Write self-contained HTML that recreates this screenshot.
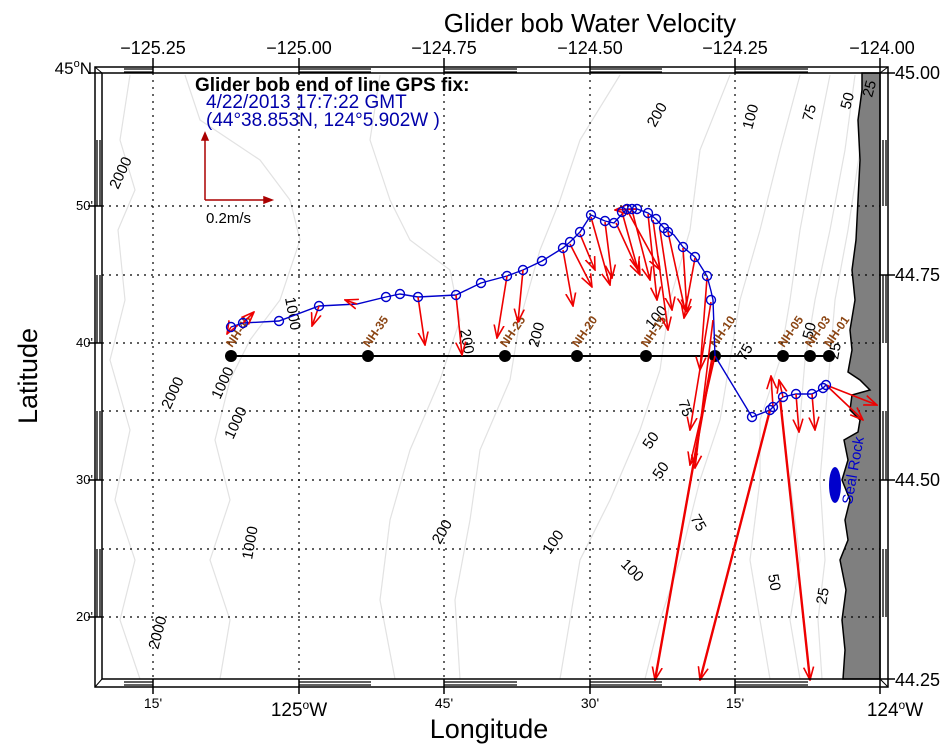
<!DOCTYPE html>
<html><head><meta charset="utf-8"><style>
body{margin:0;background:#fff;}
svg{display:block;font-family:"Liberation Sans",sans-serif;}
</style></head><body>
<svg width="950" height="748" viewBox="0 0 950 748" xmlns="http://www.w3.org/2000/svg">
<defs>
<marker id="ah" markerWidth="14" markerHeight="12" refX="13" refY="6" orient="auto" markerUnits="userSpaceOnUse"><path d="M0,1 L13,6 L0,11" fill="none" stroke="#e00" stroke-width="1.6"/></marker>
</defs>
<rect width="950" height="748" fill="#fff"/>
<text x="590" y="32" font-size="26" text-anchor="middle">Glider bob Water Velocity</text>
<!-- contours -->
<g fill="none" stroke="#e2e2e2" stroke-width="1.2">
<path d="M130,75 L120,140 L135,190 L118,230 L125,300 L110,360 L130,430 L115,500 L135,560 L120,620 L140,679"/>
<path d="M185,75 L200,120 L230,140 L260,160 L290,200 L300,240 L280,300 L250,340 L230,380 L215,440 L230,500 L210,560 L230,620 L220,679"/>
<path d="M380,75 L370,140 L390,200 L410,240 L450,270 L460,320 L440,380 L410,450 L390,520 L380,600 L395,679"/>
<path d="M620,75 L580,140 L560,200 L540,250 L520,320 L510,380 L480,450 L470,520 L455,600 L460,679"/>
<path d="M730,75 L700,150 L690,230 L670,300 L660,370 L640,430 L610,500 L580,560 L560,679"/>
<path d="M800,75 L780,150 L760,230 L740,300 L730,360 L720,420 L700,480 L680,560 L660,620 L645,679"/>
<path d="M830,75 L815,150 L800,230 L790,300 L780,360 L760,420 L760,480 L750,560 L760,620 L770,679"/>
<path d="M855,75 L845,150 L830,230 L815,300 L805,360 L800,420 L790,480 L800,560 L790,620 L800,679"/>
<path d="M868,75 L860,150 L848,230 L835,300 L830,360 L825,420 L820,480 L825,560 L818,620 L822,679"/>
</g>
<!-- land -->
<path d="M862,73 L880,73 L880,679 L843,679 L845,650 L842,620 L846,590 L840,560 L848,540 L845,520 L850,500 L842,480 L848,460 L844,440 L858,432 L860,420 L850,410 L852,395 L870,390 L860,380 L848,372 L852,350 L850,330 L855,300 L852,270 L856,240 L858,200 L860,160 L858,120 L862,90 Z" fill="#7f7f7f" stroke="#000" stroke-width="1.5"/>
<!-- grid -->
<g stroke="#000" stroke-width="1.2" stroke-dasharray="2,5">
<line x1="153" y1="73" x2="153" y2="679"/><line x1="299" y1="73" x2="299" y2="679"/><line x1="444" y1="73" x2="444" y2="679"/><line x1="590" y1="73" x2="590" y2="679"/><line x1="735" y1="73" x2="735" y2="679"/>
<line x1="102" y1="206" x2="880" y2="206"/><line x1="102" y1="275" x2="880" y2="275"/><line x1="102" y1="343" x2="880" y2="343"/><line x1="102" y1="411" x2="880" y2="411"/><line x1="102" y1="480" x2="880" y2="480"/><line x1="102" y1="549" x2="880" y2="549"/><line x1="102" y1="617" x2="880" y2="617"/>
</g>
<!-- contour labels -->
<g font-size="15" fill="#000">
<text transform="translate(118,190) rotate(-65)">2000</text>
<text transform="translate(170,410) rotate(-65)">2000</text>
<text transform="translate(220,400) rotate(-65)">1000</text>
<text transform="translate(233,440) rotate(-65)">1000</text>
<text transform="translate(252,560) rotate(-80)">1000</text>
<text transform="translate(158,650) rotate(-75)">2000</text>
<text transform="translate(285,298) rotate(80)">1000</text>
<text transform="translate(460,330) rotate(80)">200</text>
<text transform="translate(538,348) rotate(-75)">200</text>
<text transform="translate(440,545) rotate(-60)">200</text>
<text transform="translate(655,128) rotate(-60)">200</text>
<text transform="translate(550,555) rotate(-55)">100</text>
<text transform="translate(620,565) rotate(45)">100</text>
<text transform="translate(652,330) rotate(-50)">100</text>
<text transform="translate(752,130) rotate(-75)">100</text>
<text transform="translate(812,122) rotate(-75)">75</text>
<text transform="translate(690,518) rotate(60)">75</text>
<text transform="translate(678,402) rotate(70)">75</text>
<text transform="translate(745,362) rotate(-60)">75</text>
<text transform="translate(650,450) rotate(-55)">50</text>
<text transform="translate(660,480) rotate(-55)">50</text>
<text transform="translate(850,110) rotate(-75)">50</text>
<text transform="translate(768,575) rotate(80)">50</text>
<text transform="translate(812,340) rotate(-75)">50</text>
<text transform="translate(872,98) rotate(-75)">25</text>
<text transform="translate(826,605) rotate(-80)">25</text>
<text transform="translate(838,360) rotate(-80)">25</text>
</g>
<!-- NH line -->
<line x1="231" y1="356" x2="829" y2="356" stroke="#000" stroke-width="2"/>
<g fill="#000"><circle cx="231" cy="356" r="6"/><circle cx="368" cy="356" r="6"/><circle cx="505" cy="356" r="6"/><circle cx="577" cy="356" r="6"/><circle cx="646" cy="356" r="6"/><circle cx="715" cy="356" r="6"/><circle cx="783" cy="356" r="6"/><circle cx="810" cy="356" r="6"/><circle cx="829" cy="356" r="6"/></g>
<g font-size="12" font-weight="bold" fill="#8b4513">
<text transform="translate(232,348) rotate(-55)">NH-45</text>
<text transform="translate(369,348) rotate(-55)">NH-35</text>
<text transform="translate(506,348) rotate(-55)">NH-25</text>
<text transform="translate(578,348) rotate(-55)">NH-20</text>
<text transform="translate(647,348) rotate(-55)">NH-15</text>
<text transform="translate(716,348) rotate(-55)">NH-10</text>
<text transform="translate(784,348) rotate(-55)">NH-05</text>
<text transform="translate(811,348) rotate(-55)">NH-03</text>
<text transform="translate(830,348) rotate(-55)">NH-01</text>
</g>
<!-- glider track -->
<polyline fill="none" stroke="#00c" stroke-width="1.4" points="231,327 243,323 279,321 319,306 357,304 386,297 400,294 418,297 456,295 481,283 507,276 523,270 542,261 563,248 570,242 580,232 591,215 605,221 614,223 622,214 627,209 632,209 637,209 648,213 656,219 664,228 674,235 683,247 695,257 707,276 711,291 713,300 715,356 752,417 770,410 773,407 783,397 796,394 812,394 823,388 826,385"/>
<g stroke="#e00" stroke-width="1.6" marker-end="url(#ah)">
<line x1="231" y1="327" x2="227" y2="334"/><line x1="243" y1="323" x2="254" y2="312"/><line x1="319" y1="306" x2="312" y2="326"/><line x1="357" y1="304" x2="345" y2="300"/>
<line x1="418" y1="297" x2="425" y2="345"/><line x1="456" y1="295" x2="462" y2="355"/><line x1="507" y1="276" x2="497" y2="338"/><line x1="523" y1="270" x2="518" y2="322"/>
<line x1="563" y1="250" x2="573" y2="306"/><line x1="570" y1="244" x2="592" y2="287"/><line x1="580" y1="234" x2="595" y2="270"/><line x1="591" y1="217" x2="610" y2="285"/><line x1="605" y1="222" x2="612" y2="278"/><line x1="616" y1="223" x2="640" y2="275"/><line x1="622" y1="212" x2="638" y2="270"/><line x1="627" y1="210" x2="660" y2="270"/><line x1="632" y1="210" x2="650" y2="280"/><line x1="648" y1="214" x2="657" y2="300"/><line x1="653" y1="220" x2="668" y2="330"/><line x1="660" y1="230" x2="672" y2="310"/><line x1="668" y1="232" x2="685" y2="310"/><line x1="683" y1="248" x2="687" y2="312"/><line x1="695" y1="258" x2="684" y2="318"/><line x1="637" y1="209" x2="615" y2="210"/>
<line x1="707" y1="278" x2="700" y2="370"/><line x1="711" y1="302" x2="690" y2="430"/><line x1="713" y1="320" x2="695" y2="468"/><line x1="715" y1="356" x2="690" y2="465"/><line x1="773" y1="407" x2="771" y2="376"/><line x1="783" y1="397" x2="779" y2="380"/><line x1="796" y1="394" x2="799" y2="432"/><line x1="812" y1="394" x2="815" y2="430"/><line x1="826" y1="385" x2="877" y2="405"/><line x1="826" y1="385" x2="863" y2="420"/>
</g>
<g stroke="#e00" stroke-width="2.4" marker-end="url(#ah)">
<line x1="712" y1="360" x2="655" y2="680"/><line x1="770" y1="410" x2="700" y2="680"/><line x1="780" y1="398" x2="810" y2="680"/>
</g>
<g fill="none" stroke="#00c" stroke-width="1.4">
<circle cx="231" cy="327" r="4.5"/><circle cx="243" cy="323" r="4.5"/><circle cx="279" cy="321" r="4.5"/><circle cx="319" cy="306" r="4.5"/><circle cx="386" cy="297" r="4.5"/><circle cx="400" cy="294" r="4.5"/><circle cx="418" cy="297" r="4.5"/><circle cx="456" cy="295" r="4.5"/><circle cx="481" cy="283" r="4.5"/><circle cx="507" cy="276" r="4.5"/><circle cx="523" cy="270" r="4.5"/><circle cx="542" cy="261" r="4.5"/><circle cx="563" cy="248" r="4.5"/><circle cx="570" cy="242" r="4.5"/><circle cx="580" cy="232" r="4.5"/><circle cx="591" cy="215" r="4.5"/><circle cx="605" cy="221" r="4.5"/><circle cx="614" cy="223" r="4.5"/><circle cx="622" cy="212" r="4.5"/><circle cx="627" cy="209" r="4.5"/><circle cx="632" cy="209" r="4.5"/><circle cx="637" cy="209" r="4.5"/><circle cx="648" cy="213" r="4.5"/><circle cx="656" cy="219" r="4.5"/><circle cx="664" cy="228" r="4.5"/><circle cx="668" cy="232" r="4.5"/><circle cx="683" cy="247" r="4.5"/><circle cx="695" cy="257" r="4.5"/><circle cx="707" cy="276" r="4.5"/><circle cx="711" cy="300" r="4.5"/><circle cx="752" cy="417" r="4.5"/><circle cx="770" cy="410" r="4.5"/><circle cx="773" cy="407" r="4.5"/><circle cx="783" cy="397" r="4.5"/><circle cx="796" cy="394" r="4.5"/><circle cx="812" cy="394" r="4.5"/><circle cx="823" cy="388" r="4.5"/><circle cx="826" cy="385" r="4.5"/>
</g>
<!-- Seal rock -->
<g fill="#00c"><ellipse cx="835" cy="485" rx="6" ry="18"/></g>
<text transform="translate(852,505) rotate(-80)" font-size="15" fill="#00c">Seal Rock</text>
<!-- legend -->
<text x="195" y="91" font-size="19" font-weight="bold">Glider bob end of line GPS fix:</text>
<text x="206" y="108" font-size="19" fill="#00a">4/22/2013 17:7:22 GMT</text>
<text x="206" y="126" font-size="19" fill="#00a">(44°38.853N, 124°5.902W )</text>
<g stroke="#a00" stroke-width="1.5" fill="#a00">
<line x1="205" y1="200" x2="205" y2="135"/><path d="M202,140 L205,133 L208,140Z"/>
<line x1="205" y1="200" x2="270" y2="200"/><path d="M264,197 L272,200 L264,203Z"/>
</g>
<text x="206" y="223" font-size="15">0.2m/s</text>
<!-- frame -->
<rect x="102" y="73" width="778" height="606" fill="none" stroke="#000" stroke-width="1.5"/>
<rect x="95" y="67" width="793" height="620" fill="none" stroke="#000" stroke-width="1.5"/>
<g stroke="#000" stroke-width="1"><line x1="95" y1="67" x2="102" y2="73"/><line x1="888" y1="67" x2="880" y2="73"/><line x1="95" y1="687" x2="102" y2="679"/><line x1="888" y1="687" x2="880" y2="679"/></g>
<g stroke="#000" stroke-width="1.3" fill="none">
<path d="M124,69H153M124,72H153M299,69H371M299,72H371M444,69H517M444,72H517M590,69H662M590,72H662M735,69H808M735,72H808"/>
<path d="M124,682H153M124,685H153M299,682H371M299,685H371M444,682H517M444,685H517M590,682H662M590,685H662M735,682H808M735,685H808"/>
<path d="M97,140V206M100,140V206M97,275V343M100,275V343M97,411V480M100,411V480M97,549V617M100,549V617"/>
<path d="M883,140V206M886,140V206M883,275V343M886,275V343M883,411V480M886,411V480M883,549V617M886,549V617"/>
</g>
<g stroke="#000" stroke-width="1.5">
<line x1="153" y1="58" x2="153" y2="73"/><line x1="299" y1="58" x2="299" y2="73"/><line x1="444" y1="58" x2="444" y2="73"/><line x1="590" y1="58" x2="590" y2="73"/><line x1="735" y1="58" x2="735" y2="73"/><line x1="880" y1="58" x2="880" y2="73"/>
<line x1="153" y1="679" x2="153" y2="694"/><line x1="299" y1="679" x2="299" y2="694"/><line x1="444" y1="679" x2="444" y2="694"/><line x1="590" y1="679" x2="590" y2="694"/><line x1="735" y1="679" x2="735" y2="694"/><line x1="880" y1="679" x2="880" y2="694"/>
<line x1="88" y1="73" x2="102" y2="73"/><line x1="88" y1="206" x2="102" y2="206"/><line x1="88" y1="343" x2="102" y2="343"/><line x1="88" y1="480" x2="102" y2="480"/><line x1="88" y1="617" x2="102" y2="617"/>
<line x1="880" y1="73" x2="895" y2="73"/><line x1="880" y1="275" x2="895" y2="275"/><line x1="880" y1="480" x2="895" y2="480"/><line x1="880" y1="679" x2="895" y2="679"/>
</g>
<g font-size="18" text-anchor="middle">
<text x="153" y="54">−125.25</text><text x="299" y="54">−125.00</text><text x="444" y="54">−124.75</text><text x="590" y="54">−124.50</text><text x="735" y="54">−124.25</text><text x="882" y="54">−124.00</text>
</g>
<g font-size="18" text-anchor="start">
<text x="895" y="79">45.00</text><text x="895" y="281">44.75</text><text x="895" y="486">44.50</text><text x="895" y="686">44.25</text>
</g>
<g font-size="13" text-anchor="end">
<text x="93" y="210">50'</text><text x="93" y="347">40'</text><text x="93" y="484">30'</text><text x="93" y="621">20'</text>
</g>
<text x="92" y="74" font-size="17" text-anchor="end">45<tspan font-size="11" dy="-7">o</tspan><tspan dy="7">N</tspan></text>
<g font-size="14" text-anchor="middle">
<text x="153" y="708">15'</text><text x="444" y="708">45'</text><text x="590" y="708">30'</text><text x="735" y="708">15'</text>
</g>
<text x="299" y="716" font-size="19" text-anchor="middle">125<tspan font-size="12" dy="-7">o</tspan><tspan dy="7">W</tspan></text>
<text x="895" y="716" font-size="19" text-anchor="middle">124<tspan font-size="12" dy="-7">o</tspan><tspan dy="7">W</tspan></text>
<text x="489" y="738" font-size="27" text-anchor="middle">Longitude</text>
<text transform="translate(37,376) rotate(-90)" font-size="27" text-anchor="middle">Latitude</text>
</svg>
</body></html>
